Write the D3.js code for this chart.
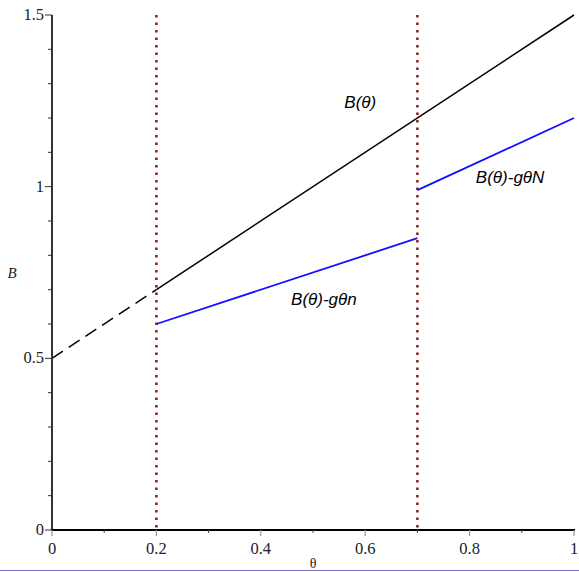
<!DOCTYPE html>
<html>
<head>
<meta charset="utf-8">
<script src="https://cdn.jsdelivr.net/npm/d3@7"></script>
<style>
  html, body { margin: 0; padding: 0; background: #fff; }
  svg { display: block; }
</style>
</head>
<body>
<div id="chart"></div>
<script>
// ── Data ────────────────────────────────────────────────────────────────────
const X_TICKS = [0, 0.2, 0.4, 0.6, 0.8, 1];
const X_MINOR = [0.1, 0.3, 0.5, 0.7, 0.9];
const Y_TICKS = [0, 0.5, 1, 1.5];
const Y_MINOR = [0.1, 0.2, 0.3, 0.4, 0.6, 0.7, 0.8, 0.9, 1.1, 1.2, 1.3, 1.4];

// B(θ): dashed part then solid part
const B_DASHED = [[0, 0.5], [0.2, 0.7]];
const B_SOLID  = [[0.2, 0.7], [1, 1.5]];
// B(θ) - gθn and B(θ) - gθN
const LOW_N  = [[0.2, 0.6], [0.7, 0.85]];
const HIGH_N = [[0.7, 0.99], [1, 1.2]];
// vertical thresholds
const THRESHOLDS = [0.2, 0.7];

const LABELS = [
  { text: "B(θ)",      x: 0.56,  y: 1.23 },
  { text: "B(θ)-gθN",  x: 0.812, y: 1.01 },
  { text: "B(θ)-gθn",  x: 0.458, y: 0.655 }
];

// ── Layout ──────────────────────────────────────────────────────────────────
const W = 579, H = 572;
const x = d3.scaleLinear().domain([0, 1]).range([52, 574]);
const y = d3.scaleLinear().domain([0, 1.5]).range([530, 15]);

const svg = d3.select("#chart").append("svg")
  .attr("width", W).attr("height", H);

const line = d3.line().x(d => x(d[0])).y(d => y(d[1]));

// threshold lines
THRESHOLDS.forEach(function (t) {
  svg.append("line")
    .attr("x1", x(t)).attr("x2", x(t))
    .attr("y1", y(1.5)).attr("y2", y(0))
    .attr("stroke", "#8b1a1a")
    .attr("stroke-width", 2.5)
    .attr("stroke-dasharray", "2.5,5");
});

// B(θ)
svg.append("path").datum(B_DASHED).attr("d", line)
  .attr("fill", "none").attr("stroke", "#000").attr("stroke-width", 1.5)
  .attr("stroke-dasharray", "13,7");
svg.append("path").datum(B_SOLID).attr("d", line)
  .attr("fill", "none").attr("stroke", "#000").attr("stroke-width", 1.5);

// blue segments
[LOW_N, HIGH_N].forEach(function (seg) {
  svg.append("path").datum(seg).attr("d", line)
    .attr("fill", "none").attr("stroke", "#1010ff").attr("stroke-width", 1.8);
});

// ── Axes ────────────────────────────────────────────────────────────────────
const serif = "'Liberation Serif', 'DejaVu Serif', serif";

// y axis
svg.append("line")
  .attr("x1", x(0)).attr("x2", x(0))
  .attr("y1", y(1.5)).attr("y2", y(0))
  .attr("stroke", "#333").attr("stroke-width", 2);
Y_TICKS.forEach(function (v) {
  svg.append("line")
    .attr("x1", x(0) - 7).attr("x2", x(0))
    .attr("y1", y(v)).attr("y2", y(v))
    .attr("stroke", "#333").attr("stroke-width", 1);
  svg.append("text")
    .attr("x", x(0) - 8).attr("y", y(v) + 5)
    .attr("text-anchor", "end")
    .attr("font-family", serif).attr("font-size", 16.5)
    .attr("fill", "#222")
    .text(v);
});
Y_MINOR.forEach(function (v) {
  svg.append("line")
    .attr("x1", x(0) - 4).attr("x2", x(0))
    .attr("y1", y(v)).attr("y2", y(v))
    .attr("stroke", "#333").attr("stroke-width", 1);
});

// x axis
svg.append("line")
  .attr("x1", x(0) - 1).attr("x2", x(1) + 1)
  .attr("y1", y(0)).attr("y2", y(0))
  .attr("stroke", "#000").attr("stroke-width", 2);
X_TICKS.forEach(function (v) {
  svg.append("line")
    .attr("x1", x(v)).attr("x2", x(v))
    .attr("y1", y(0)).attr("y2", y(0) + 6)
    .attr("stroke", "#999").attr("stroke-width", 1.2);
  svg.append("text")
    .attr("x", x(v)).attr("y", y(0) + 24)
    .attr("text-anchor", "middle")
    .attr("font-family", serif).attr("font-size", 16.5)
    .attr("fill", "#222")
    .text(v);
});
X_MINOR.forEach(function (v) {
  svg.append("line")
    .attr("x1", x(v)).attr("x2", x(v))
    .attr("y1", y(0)).attr("y2", y(0) + 3)
    .attr("stroke", "#444").attr("stroke-width", 1);
});

// axis titles
svg.append("text")
  .attr("x", 12).attr("y", 278)
  .attr("text-anchor", "middle")
  .attr("font-family", serif).attr("font-size", 15)
  .attr("font-style", "italic")
  .attr("fill", "#222")
  .text("B");
svg.append("text")
  .attr("x", x(0.5)).attr("y", 568)
  .attr("text-anchor", "middle")
  .attr("font-family", serif).attr("font-size", 14)
  .attr("fill", "#222")
  .text("θ");

// curve labels
LABELS.forEach(function (l) {
  svg.append("text")
    .attr("x", x(l.x)).attr("y", y(l.y))
    .attr("font-family", "'Liberation Sans', Arial, sans-serif")
    .attr("font-size", 17).attr("font-style", "italic")
    .attr("fill", "#000")
    .text(l.text);
});

// thin bluish rule along the bottom edge, as in the reference
svg.append("line")
  .attr("x1", 0).attr("x2", W)
  .attr("y1", H - 1.5).attr("y2", H - 1.5)
  .attr("stroke", "#7676c4").attr("stroke-width", 1);
</script>
</body>
</html>
